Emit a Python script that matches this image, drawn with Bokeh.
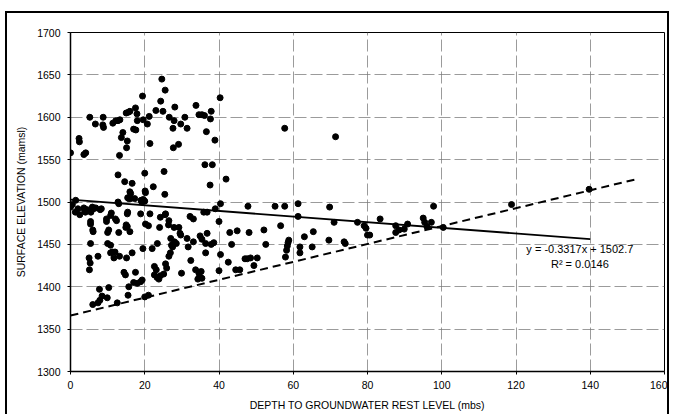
from bokeh.plotting import figure
from bokeh.models import Range1d, Label, FixedTicker, ColumnDataSource
from bokeh.embed import file_html
from bokeh.resources import INLINE

# ---- data ----
depth = [
    0, 2.3, 2.4, 3.6, 4.1, 5.2, 6.7, 8.8, 8.7, 8.9, 11.4, 12.2, 12.8, 13.3, 13.2, 12.8, 13.7, 14.1,
    15.0, 15.6, 16.0, 15.1, 15.3, 14.6, 16.6, 16.2, 15.7, 17.0, 17.6, 17.5, 17.9, 18.0, 19.4, 19.6,
    20.7, 21.2, 21.4, 20.0, 20.2, 22.3, 23.0, 24.3, 24.6, 25.5, 24.9, 25.2, 25.4, 26.6, 28.1, 27.9,
    27.6, 27.7, 29.1, 29.7, 30.8, 31.4, 33.8, 34.6, 35.4, 36.1, 36.6, 36.2, 38.2, 37.7, 37.9, 38.9,
    37.6, 40.3, 41.9, 57.7, 71.4, 16.0, 15.4, 19.6, 20.1, 19.0,
    0, 0.5, 1.4, 2.0, 3.6, 4.5, 5.9, 6.8, 8.0, 1.3, 2.5, 3.8, 4.0, 5.5, 6.2, 8.3, 12.8, 13.0, 16.2,
    17.3, 19.2, 20.0, 10.8, 11.0, 12.1, 15.3, 15.4, 18.9, 21.4, 24.2, 25.6, 25.5, 32.2, 33.1, 36.8,
    35.9, 39.0, 40.4, 47.8, 55.1, 57.7, 61.3, 69.8, 61.3, 9.7,
    5.4, 6.1, 5.4, 5.4, 6.0, 9.7, 12.4, 10.0, 10.3, 10.0, 10.8, 10.8, 11.7, 13.2, 13.0, 15.3, 16.0,
    14.9, 15.0, 20.2, 21.0, 19.5, 22.0, 23.4, 24.0, 26.5, 26.4, 27.9, 29.2, 29.5, 29.7, 27.0, 27.2,
    28.0, 28.5, 27.5, 26.5, 26.9, 31.4, 31.7, 33.1, 34.9, 35.4, 36.8, 36.4, 37.9, 36.4, 38.6, 40.0,
    40.4, 42.9, 43.4, 44.9, 48.1, 50.3, 52.1, 52.6, 56.6, 58.2, 58.4, 58.6, 58.8, 57.9, 61.8, 61.8,
    63.0, 65.4, 65.1, 69.6, 71.0, 73.7, 74.0, 77.3, 79.1, 79.6, 80.0, 80.6, 83.4, 87.6, 87.6, 88.5,
    89.9, 90.8, 95.0, 95.4, 97.2, 96.0, 100.4, 97.8, 118.8, 139.7, 12.0, 11.3,
    5.0, 5.3, 5.1, 7.4, 16.6, 15.1, 14.4, 14.8, 17.5, 15.7, 17.0, 18.0, 18.9, 19.3, 7.8, 7.9, 8.5,
    9.9, 6.0, 7.4, 10.3, 12.6, 15.5, 22.6, 23.1, 22.6, 23.3, 24.2, 25.1, 23.8, 25.6, 25.9, 29.9,
    32.4, 33.7, 34.6, 35.2, 34.8, 35.4, 34.3, 40.0, 42.5, 44.5, 45.6, 47.0, 47.6, 48.5, 49.4, 20.0,
    21.0,
]
elevation = [
    1558, 1575, 1571, 1556, 1558, 1600, 1592, 1600, 1591, 1588, 1593, 1596, 1596, 1597, 1555, 1532,
    1576, 1582, 1605, 1606, 1607, 1564, 1572, 1524, 1522, 1510, 1504, 1586, 1585, 1611, 1604, 1596,
    1625, 1597, 1592, 1601, 1569, 1534, 1511, 1518, 1608, 1619, 1645, 1632, 1607, 1536, 1509, 1600,
    1612, 1596, 1587, 1564, 1568, 1592, 1600, 1587, 1614, 1603, 1603, 1602, 1583, 1544, 1544, 1598,
    1607, 1573, 1520, 1623, 1527, 1587, 1577, 1512, 1505, 1503, 1513, 1502,
    1494, 1497, 1502, 1492, 1493, 1491, 1494, 1493, 1491, 1488, 1485, 1490, 1488, 1488, 1492, 1492,
    1500, 1498, 1504, 1504, 1500, 1501, 1484, 1487, 1480, 1486, 1488, 1486, 1486, 1482, 1486, 1485,
    1483, 1480, 1488, 1488, 1492, 1498, 1495, 1495, 1495, 1498, 1494, 1483, 1480,
    1474, 1465, 1451, 1477, 1467, 1477, 1478, 1464, 1467, 1451, 1449, 1440, 1434, 1436, 1464, 1471,
    1465, 1470, 1473, 1474, 1472, 1445, 1445, 1451, 1470, 1478, 1473, 1470, 1470, 1463, 1461, 1457,
    1449, 1453, 1451, 1447, 1436, 1440, 1457, 1447, 1453, 1460, 1456, 1463, 1451, 1450, 1440, 1452,
    1477, 1438, 1464, 1450, 1466, 1464, 1434, 1467, 1450, 1472, 1443, 1448, 1452, 1455, 1435, 1447,
    1440, 1459, 1465, 1447, 1455, 1476, 1453, 1451, 1476, 1472, 1469, 1461, 1461, 1480, 1472, 1464,
    1467, 1468, 1474, 1481, 1476, 1476, 1471, 1470, 1495, 1497, 1515, 1441, 1441,
    1434, 1428, 1420, 1436, 1440, 1434, 1417, 1414, 1417, 1400, 1405, 1404, 1406, 1408, 1397, 1384,
    1389, 1387, 1379, 1381, 1399, 1381, 1390, 1424, 1420, 1414, 1411, 1413, 1415, 1409, 1427, 1422,
    1416, 1431, 1420, 1416, 1418, 1412, 1410, 1409, 1419, 1429, 1420, 1420, 1433, 1433, 1434, 1425,
    1388, 1390,
]

# linear trend (from the chart's equation) and the lower dashed envelope
trend_slope = -0.3317
trend_intercept = 1502.7
trend_x = [0, 140]
trend_y = [trend_intercept + trend_slope * v for v in trend_x]
envelope_x = [0, 152.5]
envelope_y = [1366, 1527]

x_ticks = [0, 20, 40, 60, 80, 100, 120, 140, 160]
y_ticks = [1300, 1350, 1400, 1450, 1500, 1550, 1600, 1650, 1700]
x_title = "DEPTH TO GROUNDWATER REST LEVEL (mbs)"
y_title = "SURFACE ELEVATION (mamsl)"
eq_text = "y = -0.3317x + 1502.7"
r2_text = "R\u00b2 = 0.0146"

FONT = "Liberation Sans"

W, H = 664, 403
p = figure(width=W, height=H, output_backend="svg", toolbar_location=None,
           x_range=Range1d(0, 160), y_range=Range1d(1300, 1700),
           min_border_left=63, min_border_right=7, min_border_top=19, min_border_bottom=45)
p.margin = (11, 0, 0, 5)
p.styles = {"border-top": "2px solid black", "border-left": "2px solid black",
            "border-right": "2px solid black"}
p.background_fill_color = "white"
p.border_fill_color = "white"
p.outline_line_color = "black"
p.outline_line_width = 1

for ax, ticks in ((p.xaxis, x_ticks), (p.yaxis, y_ticks)):
    ax.ticker = FixedTicker(ticks=ticks)
    ax.major_label_text_font = FONT
    ax.major_label_text_font_size = "10.5px"
    ax.major_label_text_color = "black"
    ax.axis_label_text_font = FONT
    ax.axis_label_text_font_size = "10.5px"
    ax.axis_label_text_font_style = "normal"
    ax.axis_label_text_color = "black"
    ax.axis_line_color = "black"
    ax.axis_line_width = 1.5
    ax.major_tick_in = 0
    ax.major_tick_out = 3
    ax.major_tick_line_color = "black"
    ax.minor_tick_line_color = None

p.xaxis.axis_label = x_title
p.yaxis.axis_label = y_title
p.xaxis.major_label_standoff = 6
p.xaxis.axis_label_standoff = 7
p.yaxis.major_label_standoff = 7
p.yaxis.axis_label_standoff = 7

p.xgrid.ticker = FixedTicker(ticks=x_ticks)
p.ygrid.ticker = FixedTicker(ticks=y_ticks)
for g in (p.xgrid, p.ygrid):
    g.grid_line_color = "#7a7a7a"
    g.grid_line_width = 1
    g.grid_line_dash = "12 4"
    g.grid_line_alpha = 0.75

src = ColumnDataSource(data=dict(x=depth, y=elevation))
p.scatter("x", "y", source=src, size=6, fill_color="black", line_color="black")

p.line(trend_x, trend_y, line_color="black", line_width=1.8)
p.line(envelope_x, envelope_y, line_color="black", line_width=2, line_dash="8 5")

p.add_layout(Label(x=137.2, y=1445, text=eq_text, text_align="center", text_baseline="middle",
                   text_font=FONT, text_font_size="11px", text_color="black"))
p.add_layout(Label(x=137.2, y=1427, text=r2_text, text_align="center", text_baseline="middle",
                   text_font=FONT, text_font_size="11px", text_color="black"))

open("out.html", "w").write(file_html(p, INLINE))
